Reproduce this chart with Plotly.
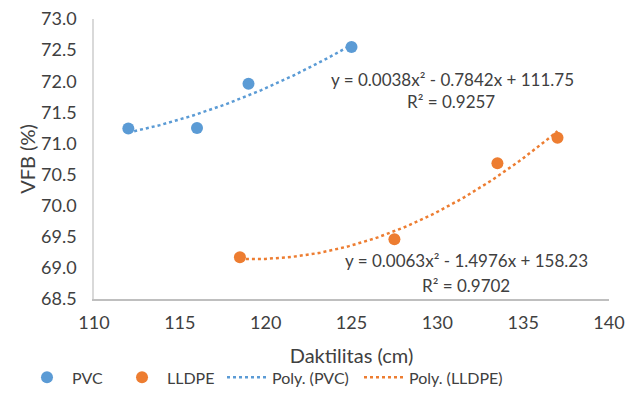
import numpy as np
import plotly.graph_objects as go

pvc_x = [112, 116, 119, 125]
pvc_y = [71.24, 71.25, 71.96, 72.55]
lldpe_x = [118.5, 127.5, 133.5, 137.0]
lldpe_y = [69.17, 69.46, 70.68, 71.09]

pvc_eq = "y = 0.0038x² - 0.7842x + 111.75"
pvc_r2 = "R² = 0.9257"
lldpe_eq = "y = 0.0063x² - 1.4976x + 158.23"
lldpe_r2 = "R² = 0.9702"

blue = "#5B9BD5"
orange = "#ED7D31"
font = "Lato, 'Open Sans', sans-serif"


def trend(xs, ys):
    c = np.polyfit(xs, ys, 2)
    tx = np.linspace(min(xs), max(xs), 100)
    return tx, np.polyval(c, tx)


fig = go.Figure()
fig.add_trace(go.Scatter(x=pvc_x, y=pvc_y, mode="markers", name="PVC",
                         marker=dict(color=blue, size=12), legend="legend"))
fig.add_trace(go.Scatter(x=lldpe_x, y=lldpe_y, mode="markers", name="LLDPE",
                         marker=dict(color=orange, size=12), legend="legend2"))
tx, ty = trend(pvc_x, pvc_y)
fig.add_trace(go.Scatter(x=tx, y=ty, mode="lines", name="Poly. (PVC)",
                         line=dict(color=blue, width=2.5, dash="dot"), legend="legend3"))
tx, ty = trend(lldpe_x, lldpe_y)
fig.add_trace(go.Scatter(x=tx, y=ty, mode="lines", name="Poly. (LLDPE)",
                         line=dict(color=orange, width=2.5, dash="dot"), legend="legend4"))

ann_font = dict(family=font, size=17, color="#404040")
fig.add_annotation(x=130.9, y=72.02, text=pvc_eq, showarrow=False, font=ann_font)
fig.add_annotation(x=130.8, y=71.67, text=pvc_r2, showarrow=False, font=ann_font)
fig.add_annotation(x=131.67, y=69.125, text=lldpe_eq, showarrow=False, font=ann_font)
fig.add_annotation(x=131.67, y=68.72, text=lldpe_r2, showarrow=False, font=ann_font)

leg_common = dict(orientation="h", y=-0.28, yanchor="middle", xanchor="left",
                  font=dict(size=16, color="#404040"), itemwidth=40,
                  bgcolor="rgba(0,0,0,0)")

fig.update_layout(
    width=628, height=411,
    margin=dict(l=94, r=19, t=19, b=112, autoexpand=False),
    plot_bgcolor="white", paper_bgcolor="white",
    font=dict(family=font, size=16, color="#595959"),
    showlegend=True,
    legend=dict(x=-0.1398, **leg_common),
    legend2=dict(x=0.0447, **leg_common),
    legend3=dict(x=0.2486, **leg_common),
    legend4=dict(x=0.5146, **leg_common),
    xaxis=dict(range=[110, 140], dtick=5, showgrid=False, zeroline=False,
               showline=True, linecolor="#BFBFBF", linewidth=1.5,
               ticks="outside", ticklen=7, tickcolor="rgba(0,0,0,0)",
               automargin=False,
               title=dict(text="Daktilitas (cm)", font=dict(size=20, color="#404040"), standoff=17),
               tickfont=dict(size=18, color="#404040")),
    yaxis=dict(range=[68.5, 73.0], dtick=0.5, tickformat=".1f", showgrid=False, zeroline=False,
               showline=True, linecolor="#D9D9D9", linewidth=1.5,
               ticks="outside", ticklen=12, tickcolor="rgba(0,0,0,0)",
               automargin=False,
               title=dict(text="VFB (%)", font=dict(size=20, color="#404040"), standoff=0),
               tickfont=dict(size=18, color="#404040")),
)

fig.write_html("out.html", config={"displayModeBar": False},
               post_script="document.body.style.margin='0';")
